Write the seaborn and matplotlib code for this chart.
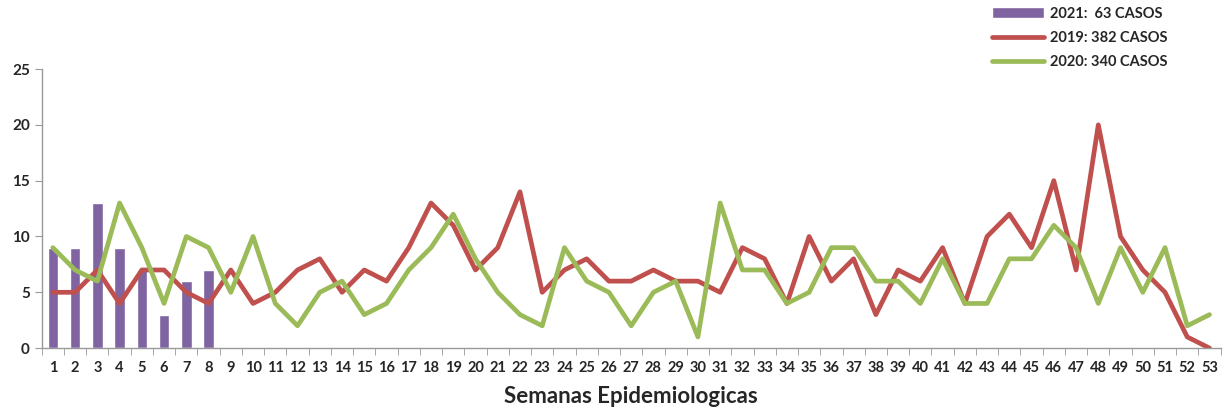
import matplotlib.pyplot as plt
import seaborn as sns
import pandas as pd
import numpy as np
from matplotlib.patches import Patch
from matplotlib.lines import Line2D

semanas = list(range(1, 54))
casos_2021 = [9, 9, 13, 9, 7, 3, 6, 7]
casos_2019 = [5, 5, 7, 4, 7, 7, 5, 4, 7, 4,
              5, 7, 8, 5, 7, 6, 9, 13, 11, 7,
              9, 14, 5, 7, 8, 6, 6, 7, 6, 6,
              5, 9, 8, 4, 10, 6, 8, 3, 7, 6,
              9, 4, 10, 12, 9, 15, 7, 20, 10, 7,
              5, 1, 0]
casos_2020 = [9, 7, 6, 13, 9, 4, 10, 9, 5, 10,
              4, 2, 5, 6, 3, 4, 7, 9, 12, 8,
              5, 3, 2, 9, 6, 5, 2, 5, 6, 1,
              13, 7, 7, 4, 5, 9, 9, 6, 6, 4,
              8, 4, 4, 8, 8, 11, 9, 4, 9, 5,
              9, 2, 3]
etiquetas = ["2021:  63 CASOS", "2019: 382 CASOS", "2020: 340 CASOS"]

morado = "#8064A2"
rojo = "#C0504D"
verde = "#9BBB59"

sns.set_style("white")
plt.rcParams['font.family'] = ['Lato', 'DejaVu Sans']

df_bar = pd.DataFrame({'semana': semanas[:len(casos_2021)], 'casos': casos_2021})
df_lin = pd.DataFrame({'semana': semanas, '2019': casos_2019, '2020': casos_2020})

fig = plt.figure(figsize=(12.28, 4.11), dpi=100)
ax = fig.add_axes([0.034, 0.153, 0.96, 0.679])

sns.barplot(data=df_bar, x='semana', y='casos', native_scale=True, color=morado,
            width=0.48, saturation=1, ax=ax)
sns.lineplot(data=df_lin, x='semana', y='2019', color=rojo, lw=3.4, ax=ax)
sns.lineplot(data=df_lin, x='semana', y='2020', color=verde, lw=3.4, ax=ax)

ax.set_xlim(0.5, 53.5)
ax.set_ylim(0, 25)
ax.set_yticks([0, 5, 10, 15, 20, 25])
ax.set_xticks(semanas)
ax.set_xticks(np.arange(0.5, 54, 1), minor=True)
ax.tick_params(axis='x', which='major', length=0, pad=9, labelsize=10.5)
ax.tick_params(axis='x', which='minor', length=5, color='#999999', direction='out', bottom=True)
ax.tick_params(axis='y', length=5, color='#999999', direction='out', left=True, labelsize=11)
for lab in ax.get_xticklabels() + ax.get_yticklabels():
    lab.set_fontweight('bold')

for s in ['top', 'right']:
    ax.spines[s].set_visible(False)
for s in ['left', 'bottom']:
    ax.spines[s].set_color('#999999')
    ax.spines[s].set_linewidth(1)

ax.set_ylabel('')
ax.set_xlabel('Semanas Epidemiologicas', fontsize=16, fontweight='bold', labelpad=8)

handles = [Patch(facecolor=morado),
           Line2D([0], [0], color=rojo, lw=3.4),
           Line2D([0], [0], color=verde, lw=3.4)]
fig.legend(handles, etiquetas, loc='upper left', bbox_to_anchor=(0.797, 1.015),
           frameon=False, prop={'weight': 'bold', 'size': 10.5},
           handlelength=3.6, handleheight=0.8, labelspacing=0.7, handletextpad=0.4)

fig.savefig('out.png', dpi=100)
